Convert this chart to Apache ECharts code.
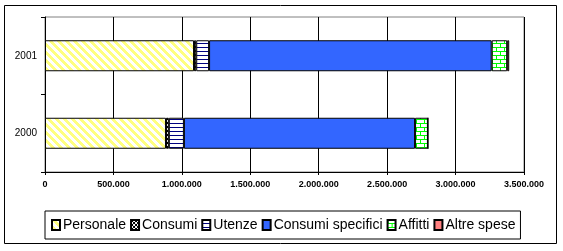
<!DOCTYPE html>
<html>
<head>
<meta charset="utf-8">
<script src="https://cdn.jsdelivr.net/npm/echarts@6/dist/echarts.min.js"></script>
<style>
html,body{margin:0;padding:0;background:#fff;}
#c{width:563px;height:251px;}
</style>
</head>
<body>
<div id="c"></div>
<script>
const years = ['2000', '2001'];
const personale = [884000, 1089000];
const consumi = [21000, 16000];
const utenze = [110000, 94000];
const consumiSpecifici = [1689000, 2065000];
const affitti = [94000, 113000];
const altreSpese = [0, 15000];
const seriesNames = ['Personale', 'Consumi', 'Utenze', 'Consumi specifici', 'Affitti', 'Altre spese'];
const xTicks = [0, 500000, 1000000, 1500000, 2000000, 2500000, 3000000, 3500000];

function tile(w, h, draw) {
  const c = document.createElement('canvas');
  c.width = w; c.height = h;
  const g = c.getContext('2d');
  g.fillStyle = '#fff'; g.fillRect(0, 0, w, h);
  draw(g);
  return { image: c, repeat: 'repeat' };
}
const patPersonale = tile(8, 8, g => {
  g.fillStyle = '#ffff80';
  for (let y = 0; y < 8; y++) for (let x = 0; x < 8; x++) {
    if (((x - y) % 8 + 8) % 8 < 4) g.fillRect(x, y, 1, 1);
  }
});
const patConsumi = tile(4, 4, g => {
  g.fillStyle = '#000';
  g.fillRect(0, 0, 2, 2); g.fillRect(2, 2, 2, 2);
  g.fillRect(1, 1, 1, 1);
});
const patUtenze = tile(4, 4, g => {
  g.fillStyle = '#000080';
  g.fillRect(0, 3, 4, 1);
});
const patAffitti = tile(8, 8, g => {
  g.fillStyle = '#00ff00';
  g.fillRect(0, 3, 8, 1);
  g.fillRect(0, 7, 8, 1);
  g.fillRect(0, 0, 1, 3);
  g.fillRect(4, 4, 1, 3);
});
const colors = [patPersonale, patConsumi, patUtenze, '#3366ff', patAffitti, '#ff8080'];
const dataArr = [personale, consumi, utenze, consumiSpecifici, affitti, altreSpese];

function fmt(v) {
  return String(v).replace(/\B(?=(\d{3})+(?!\d))/g, '.');
}

const chart = echarts.init(document.getElementById('c'), null, { renderer: 'canvas' });
chart.setOption({
  animation: false,
  backgroundColor: '#fff',
  grid: { left: 45, right: 39, top: 17, bottom: 79, show: true, borderColor: '#808080', borderWidth: 1, backgroundColor: 'transparent' },
  xAxis: {
    type: 'value', min: 0, max: 3500000, interval: 500000,
    axisLine: { show: true, lineStyle: { color: '#000', width: 1 } },
    axisTick: { show: true, length: 3, lineStyle: { color: '#000' } },
    splitLine: { show: true, lineStyle: { color: '#000', width: 1 } },
    axisLabel: {
      color: '#000', fontFamily: 'Liberation Sans, Arial', fontSize: 9, fontWeight: 'bold', margin: 8,
      formatter: v => xTicks.includes(v) ? fmt(v) : ''
    }
  },
  yAxis: {
    type: 'category', data: years,
    axisLine: { show: true, lineStyle: { color: '#000', width: 1 } },
    axisTick: { show: true, length: 4, lineStyle: { color: '#000' } },
    axisLabel: { color: '#000', fontFamily: 'Liberation Sans, Arial', fontSize: 10, margin: 8 }
  },
  legend: {
    data: seriesNames.map(n => ({ name: n, icon: 'rect' })),
    left: 45, top: 211, width: 480,
    borderColor: '#000', borderWidth: 1, padding: [7, 5, 7, 6],
    itemWidth: 8, itemHeight: 10, itemGap: 4,
    textStyle: { color: '#000', fontFamily: 'Liberation Sans, Arial', fontSize: 14, padding: [0, 0, 0, -2] }
  },
  graphic: [{
    type: 'rect', shape: { x: 4.5, y: 5.5, width: 552, height: 238 },
    style: { fill: 'none', stroke: '#000', lineWidth: 1 }, silent: true, z: 100
  }],
  series: seriesNames.map((n, i) => ({
    name: n, type: 'bar', stack: 'tot', barWidth: '40%',
    data: dataArr[i],
    itemStyle: { color: colors[i], borderColor: '#000', borderWidth: 1 }
  }))
});
</script>
</body>
</html>
